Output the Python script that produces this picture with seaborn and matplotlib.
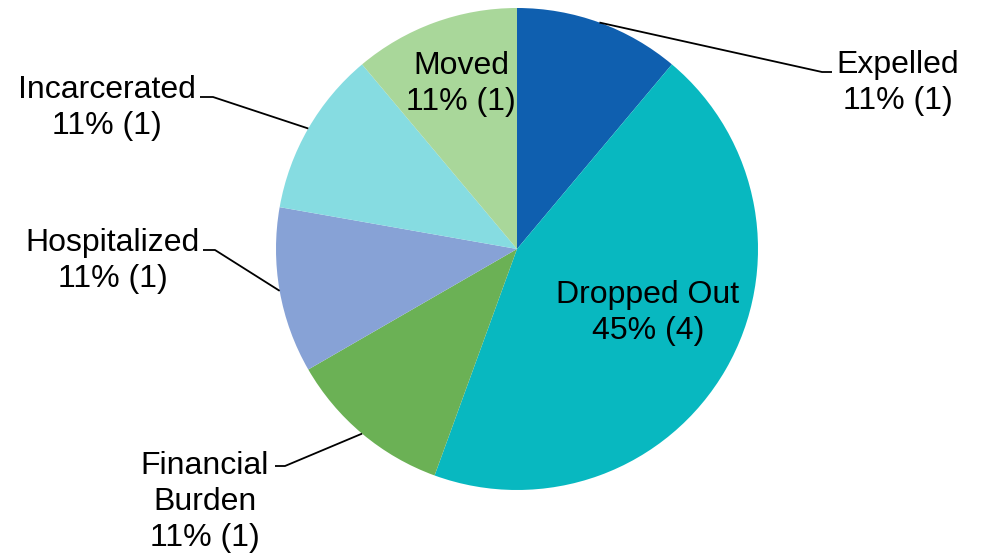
import matplotlib
matplotlib.use("Agg")
import matplotlib.pyplot as plt
import seaborn as sns
import numpy as np

categories = ["Expelled", "Dropped Out", "Financial\nBurden", "Hospitalized", "Incarcerated", "Moved"]
counts = [1, 4, 1, 1, 1, 1]
pct_labels = ["11%", "45%", "11%", "11%", "11%", "11%"]
colors = ["#0F5FAF", "#08B8C0", "#6BB155", "#87A2D6", "#86DCE1", "#A9D79A"]

sns.set_theme(style="white")
plt.rcParams["font.family"] = ["Liberation Sans", "DejaVu Sans"]

W, H = 981, 554
fig = plt.figure(figsize=(W / 100, H / 100), dpi=100)
ax = fig.add_axes([0, 0, 1, 1])

cx, cy, R = 517, 249, 241
wedges, _ = ax.pie(counts, colors=colors, startangle=90, counterclock=False,
                   radius=1.0, wedgeprops=dict(linewidth=0))
ax.set_xlim((0 - cx) / R, (W - cx) / R)
ax.set_ylim((cy - H) / R, cy / R)
ax.set_aspect("auto")
ax.axis("off")

labels = [f"{c}\n{p} ({n})" for c, p, n in zip(categories, pct_labels, counts)]

def px(x, y):
    return ((x - cx) / R, (cy - y) / R)

layout = {
    0: dict(text=(898, 83), elbow=(822, 72), end=(832, 72)),
    1: dict(text=(648, 313), elbow=None),
    2: dict(text=(205, 502), elbow=(285, 466), end=(275, 466)),
    3: dict(text=(113, 261), elbow=(215, 250), end=(203, 250)),
    4: dict(text=(107, 108), elbow=(213, 97), end=(200, 97)),
    5: dict(text=(461, 84), elbow=None),
}

fs = 23
for i, w in enumerate(wedges):
    L = layout[i]
    tx, ty = px(*L["text"])
    ax.text(tx, ty, labels[i], ha="center", va="center", fontsize=fs,
            color="black", linespacing=1.27)
    if L["elbow"] is not None:
        ang = np.deg2rad((w.theta1 + w.theta2) / 2)
        ax0, ay0 = np.cos(ang), np.sin(ang)
        ex, ey = px(*L["elbow"])
        sx, sy = px(*L["end"])
        ax.plot([ax0, ex, sx], [ay0, ey, sy], color="black", linewidth=1.3,
                solid_capstyle="butt")

fig.savefig("out.png", dpi=100)
